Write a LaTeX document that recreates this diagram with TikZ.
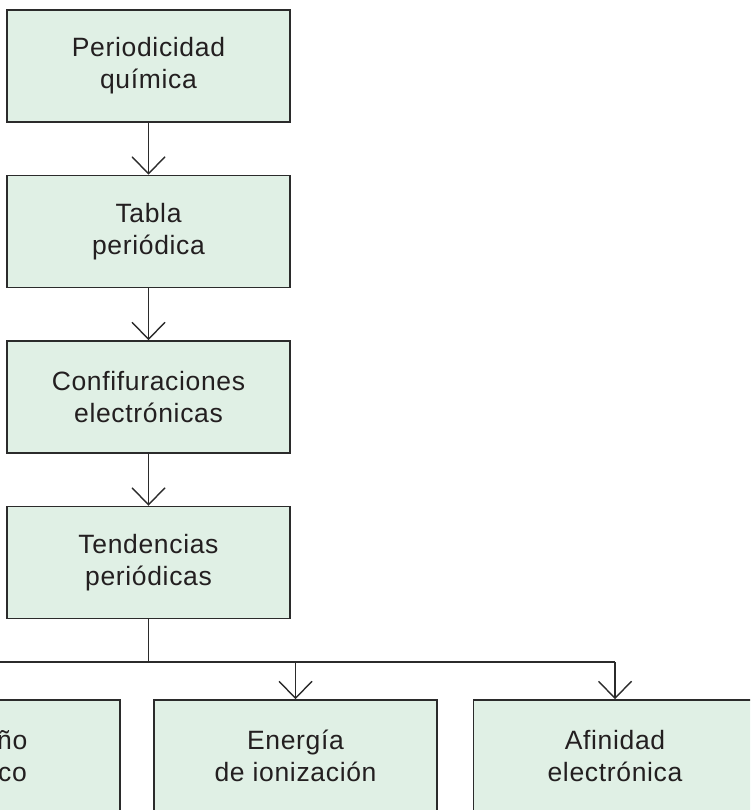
\documentclass[tikz,border=0pt]{standalone}
\usepackage{fontspec}
\setmainfont[LetterSpace=2.5]{Liberation Sans}
\usetikzlibrary{arrows.meta}
\definecolor{boxfill}{HTML}{E0F0E5}
\definecolor{boxline}{HTML}{2B2B2B}
\definecolor{txt}{HTML}{231F20}
\begin{document}
\begin{tikzpicture}[x=1pt,y=-1pt,
  box/.style={draw=boxline, line width=1.5pt, fill=boxfill, minimum width=283pt,
    minimum height=112pt, inner sep=0pt, align=center,
    font=\fontsize{26.5}{32}\selectfont, text=txt},
  conn/.style={draw=boxline, line width=1.4pt},
  arr/.style={conn, -{Straight Barb[length=17pt,width=33pt,line width=1.4pt]}}]
\useasboundingbox (0,0) rectangle (750,810);
\clip (0,0) rectangle (750,810);
\node[box] (b1) at (148.5,66) {Periodicidad\\química};
\node[box] (b2) at (148.5,231.5) {Tabla\\periódica};
\node[box] (b3) at (148.5,397) {Confifuraciones\\electrónicas};
\node[box] (b4) at (148.5,562.5) {Tendencias\\periódicas};
\node[box] (c1) at (-21.5,756) {Tamaño\\atómico};
\node[box] (c2) at (295.5,756) {Energía\\de ionización};
\node[box] (c3) at (615,756) {Afinidad\\electrónica};
\draw[arr] (b1) -- (b2);
\draw[arr] (b2) -- (b3);
\draw[arr] (b3) -- (b4);
\coordinate (j) at (148.5,662);
\draw[conn] (b4.south) -- (j);
\draw[conn] (c1.north |- j) -- (c3.north |- j);
\draw[arr] (c1.north |- j) -- (c1.north);
\draw[arr] (c2.north |- j) -- (c2.north);
\draw[arr] (c3.north |- j) -- (c3.north);
\end{tikzpicture}
\end{document}
